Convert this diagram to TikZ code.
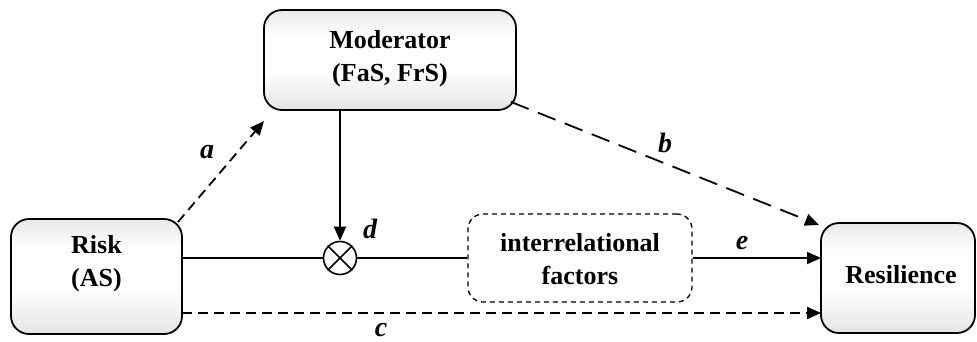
\documentclass[tikz,border=0pt]{standalone}
\usepackage{fontspec}
\setmainfont{Liberation Serif}
\usetikzlibrary{arrows.meta,shapes.misc}
% soft vertical shading: grey at the rims, white through the middle
\pgfdeclareverticalshading{boxfade}{100bp}{
  color(0bp)=(black!17); color(22bp)=(black!12); color(45bp)=(white); color(62bp)=(white);
  color(78bp)=(black!11); color(100bp)=(black!18)}
\begin{document}
\begin{tikzpicture}[x=1pt,y=-1pt,
  box/.style={draw, line width=1.8pt, rounded corners=18pt, shading=boxfade, inner sep=0pt},
  txt/.style={font=\fontsize{26}{33}\selectfont\bfseries, align=center, inner sep=0pt},
  lbl/.style={font=\fontsize{28}{30}\selectfont\bfseries\itshape, inner sep=0pt},
  conn/.style={line width=1.8pt},
  tip/.style={-{Triangle[length=14pt,width=12pt]}},
  shortdash/.style={dash pattern=on 10pt off 6pt},
  longdash/.style={dash pattern=on 19pt off 10pt}]
\useasboundingbox (0,0) rectangle (977,341);
% boxes
\node[box, minimum width=171pt, minimum height=115pt] (risk) at (96.5,276.5) {};
\node[txt] (risktxt) at (96.5,264) {Risk\\(AS)};
\node[box, minimum width=252pt, minimum height=100pt] (mod) at (390,60) {};
\node[txt] (modtxt) at (390,59) {Moderator\\(FaS, FrS)};
\node[box, minimum width=154pt, minimum height=110pt] (res) at (898,278) {};
\node[txt] (restxt) at (901,275) {Resilience};
\node[draw, line width=1.3pt, dash pattern=on 5pt off 4pt, rounded corners=15pt, minimum width=224pt, minimum height=88pt] (inter) at (580,258) {};
\node[txt] (intertxt) at (580,259) {interrelational\\factors};
% multiplier
\node[draw, circle, cross out, line width=1.6pt, minimum size=23pt, inner sep=0pt] (mul) at (340,258) {};
\node[draw, circle, line width=1.6pt, minimum size=33pt, inner sep=0pt] (ring) at (mul) {};
% free ends of the connectors
\coordinate (rl) at (182,258);
\coordinate (rc) at (182,313);
\coordinate (sl) at (821,258);
\coordinate (sc) at (821,313);
\coordinate (atip) at (264,121);
\coordinate (btip) at (819,225);
% connectors
\draw[conn, tip] (mod.south -| ring.north) -- (ring.north);
\draw[conn] (rl) -- (ring.west);
\draw[conn] (ring.east) -- (inter.west |- ring.east);
\draw[conn, tip] (inter.east |- sl) -- (sl);
\draw[conn, tip, shortdash] (risk.north east) ++(-5,4) -- (atip);
\draw[conn, tip, longdash] (mod.south east) ++(-6,-9) -- (btip);
\draw[conn, tip, shortdash] (rc) -- (sc);
% labels
\node[lbl] (la) at (207,152) {a};
\node[lbl] (lb) at (665,143) {b};
\node[lbl] (lc) at (381,330) {c};
\node[lbl] (ld) at (370,229) {d};
\node[lbl] (le) at (742,243) {e};
\end{tikzpicture}
\end{document}
